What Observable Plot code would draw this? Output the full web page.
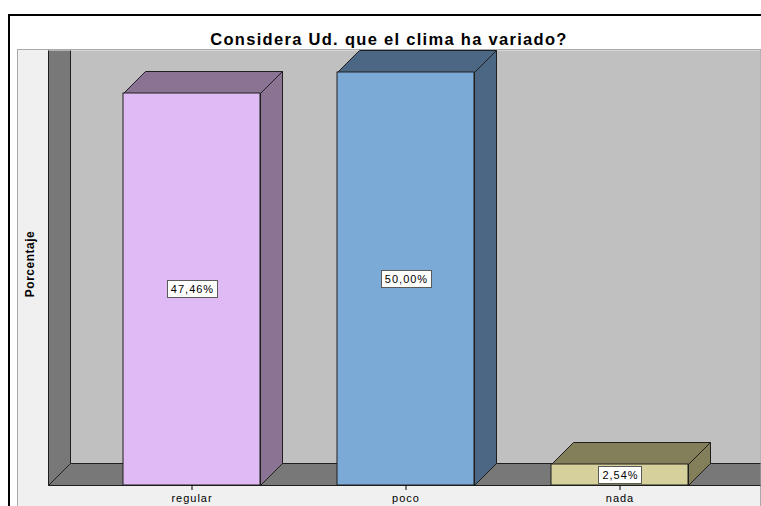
<!DOCTYPE html>
<html>
<head>
<meta charset="utf-8">
<script src="https://cdn.jsdelivr.net/npm/d3@7"></script>
<script src="https://cdn.jsdelivr.net/npm/@observablehq/plot@0.6"></script>
<style>
  html, body { margin: 0; padding: 0; background: #fff; }
  #chart svg { display: block; }
</style>
</head>
<body>
<div id="chart"></div>
<script>
// ---- data ----
const titleText = "Considera Ud. que el clima ha variado?";
const yLabelText = "Porcentaje";
const categories = ["regular", "poco", "nada"];
const percentages = [47.46, 50.00, 2.54];

const data = categories.map((c, i) => ({category: c, value: percentages[i]}));

// ---- styles ----
const FRONT = ["#dfbaf4", "#7caad7", "#d6d19c"];
const SHADE = ["#8a7393", "#4b6783", "#837f5b"];
const DEPTH = 22;
const EDGE = "#1e1e1e";
const FONT = "'Liberation Sans', Arial, Helvetica, sans-serif";
const fmt = v => v.toFixed(2).replace(".", ",") + "%";
const bandwidthOf = s => (typeof s.bandwidth === "function" ? s.bandwidth() : s.bandwidth);

// background: frame, panel, walls, floor, title, y label
const background = (index, scales, values, dims) => {
  const {width, height, marginTop, marginBottom, marginLeft} = dims;
  const g = d3.create("svg:g").attr("class", "bg3d");
  const x0 = marginLeft, yb = height - marginBottom, yt = marginTop - DEPTH;
  const xr = width - 1;
  g.append("path")
    .attr("d", `M9,${height}V15H${width}`)
    .attr("fill", "none").attr("stroke", "#000").attr("stroke-width", 2);
  g.append("rect")
    .attr("x", 17.5).attr("y", yt - 0.5)
    .attr("width", xr - 17).attr("height", height)
    .attr("fill", "#f0f0f0").attr("stroke", "#a9a9a9");
  const w = g.append("g").attr("transform", "translate(0.5,0.5)");
  w.append("rect")
    .attr("x", x0 + DEPTH).attr("y", yt)
    .attr("width", xr - x0 - DEPTH).attr("height", yb - DEPTH - yt)
    .attr("fill", "#c0c0c0");
  w.append("path")
    .attr("d", `M${x0},${yt}H${x0 + DEPTH}V${yb - DEPTH}L${x0},${yb}Z`)
    .attr("fill", "#787878");
  w.append("path")
    .attr("d", `M${x0},${yb}L${x0 + DEPTH},${yb - DEPTH}H${xr}V${yb}Z`)
    .attr("fill", "#787878");
  w.append("path")
    .attr("d", `M${x0},${yt}V${yb}H${xr}M${x0 + DEPTH},${yt}V${yb - DEPTH}H${xr}M${x0},${yb}L${x0 + DEPTH},${yb - DEPTH}`)
    .attr("fill", "none").attr("stroke", EDGE);
  g.append("text")
    .attr("x", 389).attr("y", 44.5)
    .attr("text-anchor", "middle")
    .style("font", `bold 16.5px ${FONT}`)
    .style("letter-spacing", "1.3px")
    .attr("fill", "#000")
    .text(titleText);
  g.append("text")
    .attr("transform", `translate(33.5,264) rotate(-90)`)
    .attr("text-anchor", "middle")
    .style("font", `bold 12px ${FONT}`)
    .style("letter-spacing", "0.5px")
    .attr("fill", "#000")
    .text(yLabelText);
  return g.node();
};

// top and side faces of each 3D bar
const barDepth = (index, {x, y}) => {
  const g = d3.create("svg:g").attr("transform", "translate(0.5,0.5)");
  const b = bandwidthOf(x);
  data.forEach((d, i) => {
    const xl = x(d.category), xr = xl + b, yt = y(d.value), y0 = y(0);
    g.append("path")
      .attr("d", `M${xl},${yt}L${xl + DEPTH},${yt - DEPTH}H${xr + DEPTH}L${xr},${yt}Z`)
      .attr("fill", SHADE[i]).attr("stroke", EDGE);
    g.append("path")
      .attr("d", `M${xr},${yt}L${xr + DEPTH},${yt - DEPTH}V${y0 - DEPTH}L${xr},${y0}Z`)
      .attr("fill", SHADE[i]).attr("stroke", EDGE);
  });
  return g.node();
};

// white boxes behind value labels
const labelBoxes = (index, {x, y}) => {
  const g = d3.create("svg:g").attr("transform", "translate(0.5,0.5)");
  const b = bandwidthOf(x);
  const ctx = document.createElement("canvas").getContext("2d");
  ctx.font = `11px ${FONT}`;
  data.forEach(d => {
    const t = fmt(d.value);
    const tw = ctx.measureText(t).width + t.length * 1;
    const bw = Math.round(tw + 7);
    const cx = x(d.category) + b / 2;
    const cy = (y(d.value) + y(0)) / 2;
    g.append("rect")
      .attr("x", Math.round(cx - bw / 2)).attr("y", Math.round(cy - 9))
      .attr("width", bw).attr("height", 17)
      .attr("fill", "#fff").attr("stroke", "#5a5a5a");
  });
  return g.node();
};

const chart = Plot.plot({
  width: 761,
  height: 506,
  marginTop: 72,
  marginBottom: 21,
  marginLeft: 48,
  marginRight: 0,
  style: `font-family: ${FONT}; font-size: 11px; letter-spacing: 1px; color: #000; background: #fff; overflow: visible;`,
  x: {domain: categories, range: [46, 764], paddingInner: 0.36, paddingOuter: 0.35, round: true, tickSize: 5, tickPadding: 4, label: null},
  y: {domain: [0, 50], round: true, axis: null},
  color: {domain: categories, range: FRONT},
  marks: [
    background,
    barDepth,
    Plot.barY(data, {x: "category", y1: 0, y2: "value", fill: "category", stroke: EDGE, strokeWidth: 1}),
    labelBoxes,
    Plot.text(data, {x: "category", y: d => d.value / 2, text: d => fmt(d.value), fill: "#000", dx: 0.5, fontSize: 11})
  ]
});

// keep background behind the axis
const bg = chart.querySelector(".bg3d");
if (bg) chart.insertBefore(bg, chart.firstChild);
document.getElementById("chart").appendChild(chart);
</script>
</body>
</html>
